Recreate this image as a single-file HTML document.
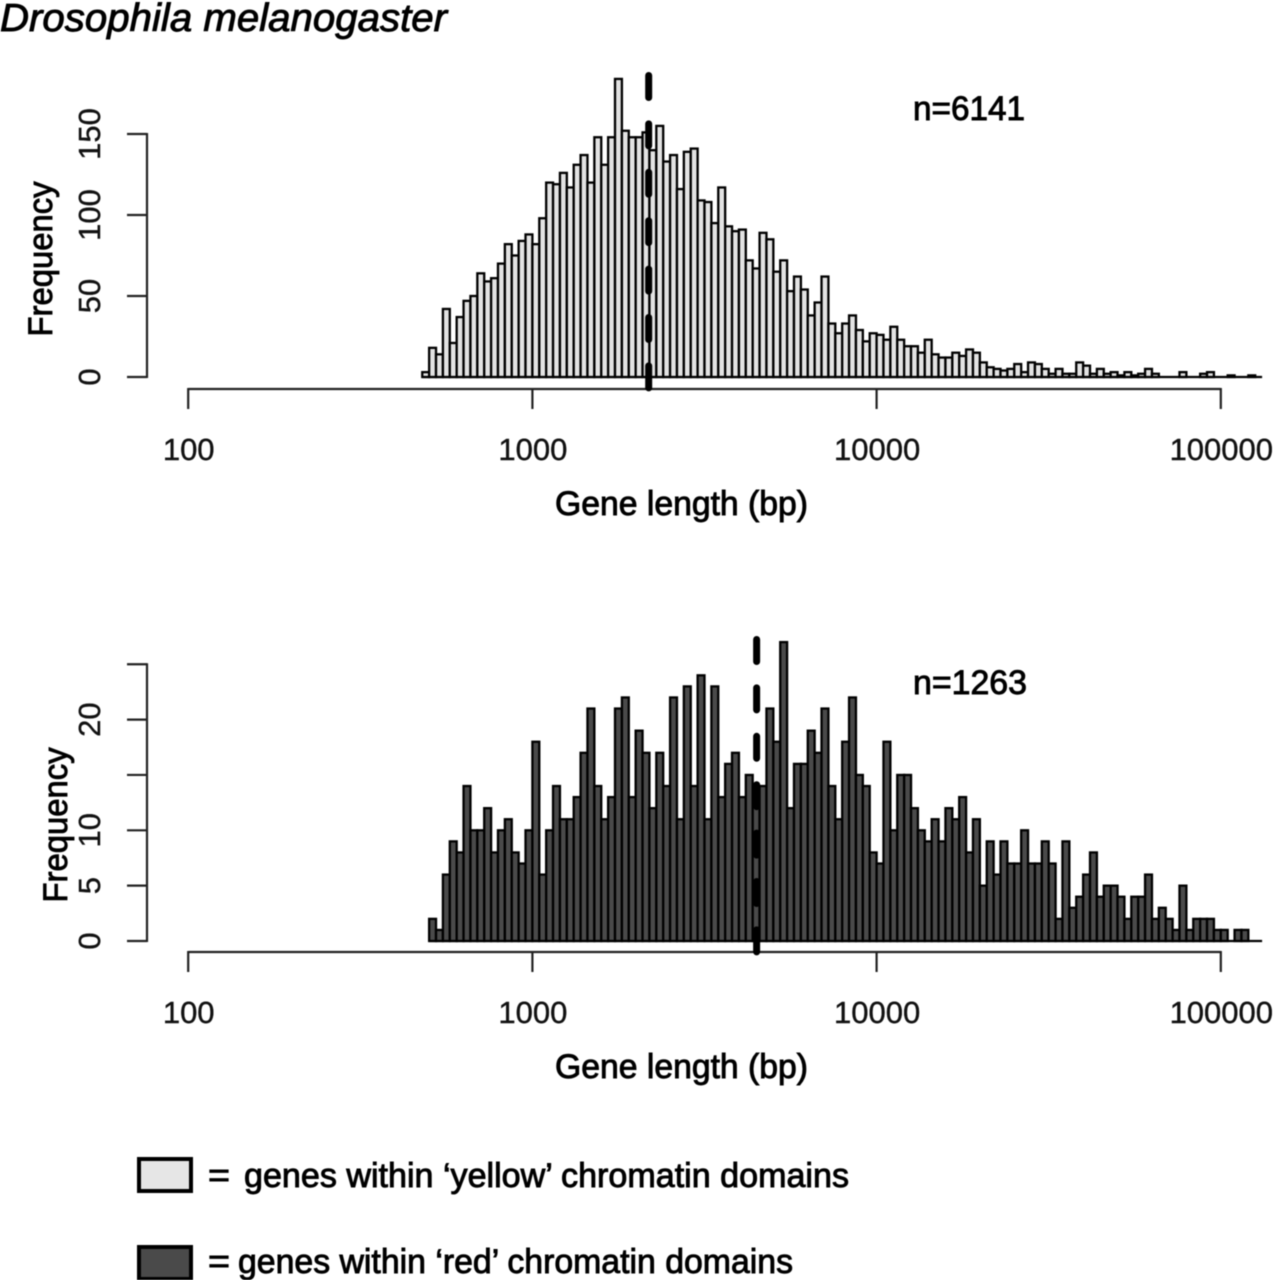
<!DOCTYPE html>
<html lang="en">
<head>
<meta charset="utf-8">
<title>Drosophila melanogaster gene length histograms</title>
<style>
  html, body { margin: 0; padding: 0; background: #fff; }
  #stage { display: block; width: 1274px; height: 1280px; filter: blur(0.45px); }
  text { font-family: "Liberation Sans", sans-serif; fill: #000; }
  .label { stroke: #000; stroke-width: 0.9px; font-size: 34px; }
  .title { stroke: #000; stroke-width: 0.9px; font-size: 39px; font-style: italic; }
  .tick { font-size: 31px; fill: #111; stroke: #111; stroke-width: 0.4px; }
</style>
</head>
<body>
<svg id="stage" xmlns="http://www.w3.org/2000/svg" width="1274" height="1280" viewBox="0 0 1274 1280">
  <text x="0" y="31" class="title" textLength="447" lengthAdjust="spacingAndGlyphs">Drosophila melanogaster</text>
  <g id="top-chart"></g>
  <g id="bottom-chart"></g>

  <rect x="139" y="1159" width="52" height="32" fill="#e6e6e6" stroke="#000" stroke-width="4"/>
  <text x="208" y="1187" class="label" textLength="22" lengthAdjust="spacingAndGlyphs">=</text>
  <text x="244" y="1187" class="label" textLength="605" lengthAdjust="spacingAndGlyphs">genes within ‘yellow’ chromatin domains</text>

  <rect x="139" y="1247" width="52" height="32" fill="#4a4a4a" stroke="#000" stroke-width="4"/>
  <text x="208" y="1273" class="label" textLength="22" lengthAdjust="spacingAndGlyphs">=</text>
  <text x="238" y="1273" class="label" textLength="555" lengthAdjust="spacingAndGlyphs">genes within ‘red’ chromatin domains</text>
</svg>
<script>
const xTickValues = [100, 1000, 10000, 100000];
const xTickLabels = ["100", "1000", "10000", "100000"];
const binLogWidth = 0.02;

const topBinLogStart = 2.68;
const topCounts = [3,18,14,42,21,37,47,50,64,59,61,70,82,75,84,88,82,98,120,119,126,117,131,137,120,148,131,148,184,152,148,148,151,140,155,133,137,116,139,141,109,108,95,117,93,90,91,72,67,89,85,65,72,53,62,54,38,46,62,33,27,33,38,29,22,27,26,23,31,23,19,19,15,23,14,12,12,15,13,17,15,9,6,5,4,5,8,3,9,8,5,2,5,2,2,9,7,2,5,2,3,1,3,1,2,5,2,0,0,0,3,0,0,2,3,0,0,1,0,0,1,0];
const topYTicks = [0, 50, 100, 150];
const topYTickLabels = ["0", "50", "100", "150"];
const topMedian = 2177;
const topN = "n=6141";

const bottomBinLogStart = 2.70;
const bottomCounts = [2,1,6,9,8,14,10,10,12,8,10,11,8,7,10,18,6,10,14,11,11,13,17,21,14,11,13,21,22,13,19,17,12,17,14,22,11,23,14,24,11,23,13,16,17,13,15,14,14,21,18,27,12,16,16,19,17,21,14,11,18,22,15,14,8,7,18,10,15,15,12,10,9,11,9,12,11,13,8,11,5,9,6,9,7,7,10,7,7,9,7,2,9,3,4,6,8,4,5,5,4,2,4,4,6,2,3,2,1,5,1,2,2,2,1,1,0,1,1,0,0];
const bottomYTicks = [0, 5, 10, 15, 20, 25];
const bottomYTickLabels = ["0", "5", "10", "", "20", ""];
const bottomMedian = 4482;
const bottomN = "n=1263";

const NS = "http://www.w3.org/2000/svg";

function xScale(value) {
  return 188.2 + 344.2 * (Math.log10(value) - 2);
}

function add(parent, tag, attrs, content) {
  const el = document.createElementNS(NS, tag);
  for (const key in attrs) el.setAttribute(key, attrs[key]);
  if (content !== undefined) el.textContent = content;
  parent.appendChild(el);
  return el;
}

function drawChart(cfg) {
  const g = cfg.group;
  const yScale = function (v) { return cfg.yBase - v * cfg.yUnit; };

  // Bars
  const lastEdge = xScale(Math.pow(10, cfg.binStart + binLogWidth * cfg.counts.length));
  const base = add(g, "line", { x1: xScale(Math.pow(10, cfg.binStart)), x2: lastEdge, y1: cfg.yBase, y2: cfg.yBase, stroke: "#000", "stroke-width": 2.3 });
  
  
  cfg.counts.forEach(function (count, i) {
    if (count === 0) return;
    const x0 = xScale(Math.pow(10, cfg.binStart + binLogWidth * i));
    const x1 = xScale(Math.pow(10, cfg.binStart + binLogWidth * (i + 1)));
    const bar = add(g, "rect", { x: x0, y: yScale(count), width: x1 - x0, height: cfg.yBase - yScale(count), fill: cfg.fill, stroke: "#000", "stroke-width": 2.3 });
    
    
  });

  // Y axis
  const yTop = yScale(cfg.yTicks[cfg.yTicks.length - 1]);
  const yAxis = add(g, "line", { x1: 147, x2: 147, y1: yTop - 1, y2: cfg.yBase + 1, stroke: "#222", "stroke-width": 2.2 });
  
  
  cfg.yTicks.forEach(function (tick, i) {
    const y = yScale(tick);
    const mark = add(g, "line", { x1: 127, x2: 147, y1: y, y2: y, stroke: "#222", "stroke-width": 2.2 });
    
    
    if (cfg.yLabels[i]) {
      const label = add(g, "text", { class: "tick", "text-anchor": "middle", transform: "translate(100 " + y + ") rotate(-90)" }, cfg.yLabels[i]);
      
      
    }
  });
  const yTitle = add(g, "text", { class: "label", textLength: 155, lengthAdjust: "spacingAndGlyphs", "text-anchor": "middle", transform: "translate(" + cfg.yTitleX + " " + cfg.yTitleY + ") rotate(-90)" }, "Frequency");
  
  

  // X axis
  const xLine = add(g, "line", { x1: xScale(xTickValues[0]), x2: xScale(xTickValues[xTickValues.length - 1]), y1: cfg.xAxisY, y2: cfg.xAxisY, stroke: "#222", "stroke-width": 2.2 });
  
  
  xTickValues.forEach(function (tick, i) {
    const x = xScale(tick);
    const mark = add(g, "line", { x1: x, x2: x, y1: cfg.xAxisY - 1, y2: cfg.xAxisY + 20, stroke: "#222", "stroke-width": 2.2 });
    
    
    const label = add(g, "text", { class: "tick", "text-anchor": "middle", x: x + 0.5, y: cfg.xAxisY + 71 }, xTickLabels[i]);
    
    
  });
  const xTitle = add(g, "text", { class: "label", x: 555, y: cfg.xAxisY + 126, textLength: 253, lengthAdjust: "spacingAndGlyphs" }, "Gene length (bp)");
  
  

  // Median line
  const mx = xScale(cfg.median);
  const medianLine = add(g, "line", { x1: mx, x2: mx, y1: cfg.medianTop, y2: cfg.xAxisY, stroke: "#000", "stroke-width": 7, "stroke-linecap": "round", "stroke-dasharray": "22 26.4" });
  
  

  // Sample size
  const nLabel = add(g, "text", { class: "label", x: 913, y: cfg.nY, textLength: cfg.nWidth, lengthAdjust: "spacingAndGlyphs" }, cfg.n);
  
  
}

drawChart({
  group: document.getElementById("top-chart"),
  counts: topCounts, binStart: topBinLogStart, fill: "#e3e3e3",
  yBase: 377, yUnit: 1.62, yTicks: topYTicks, yLabels: topYTickLabels,
  yTitleX: 52, yTitleY: 259, xAxisY: 389,
  median: topMedian, medianTop: 75.5, n: topN, nY: 120, nWidth: 112
});
drawChart({
  group: document.getElementById("bottom-chart"),
  counts: bottomCounts, binStart: bottomBinLogStart, fill: "#4a4a4a",
  yBase: 941, yUnit: 11.07, yTicks: bottomYTicks, yLabels: bottomYTickLabels,
  yTitleX: 67, yTitleY: 825, xAxisY: 952,
  median: bottomMedian, medianTop: 639.5, n: bottomN, nY: 694, nWidth: 114
});
</script>
</body>
</html>
